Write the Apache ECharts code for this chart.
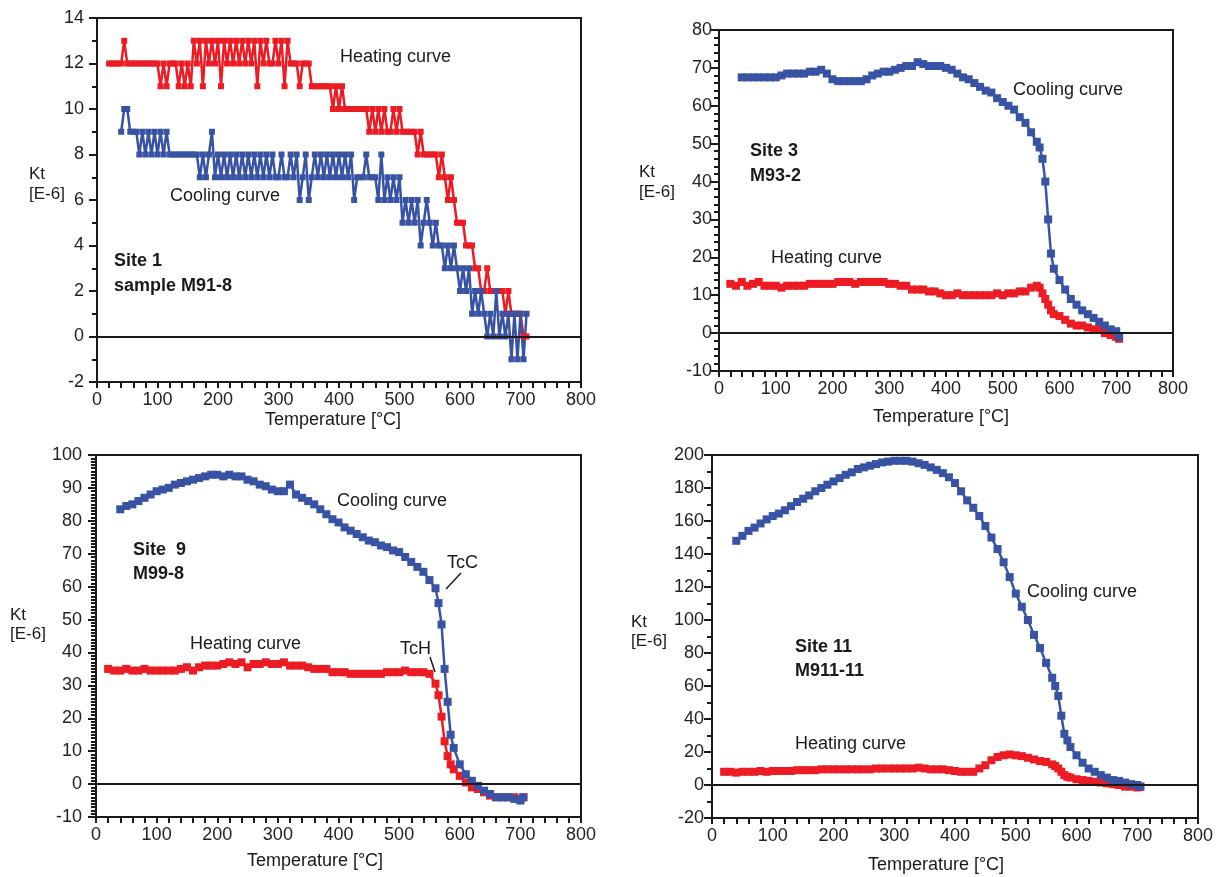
<!DOCTYPE html>
<html>
<head>
<meta charset="utf-8">
<script src="https://cdn.jsdelivr.net/npm/echarts@6/dist/echarts.min.js"></script>
<style>
  html, body { margin: 0; padding: 0; background: #fff; }
  #chart { width: 1220px; height: 877px; }
</style>
</head>
<body>
<div id="chart"></div>
<script>
// Site 1 (step 5 °C)
const temp1 = [
  20,25,30,35,40,45,50,55,60,65,
  70,75,80,85,90,95,100,105,110,115,
  120,125,130,135,140,145,150,155,160,165,
  170,175,180,185,190,195,200,205,210,215,
  220,225,230,235,240,245,250,255,260,265,
  270,275,280,285,290,295,300,305,310,315,
  320,325,330,335,340,345,350,355,360,365,
  370,375,380,385,390,395,400,405,410,415,
  420,425,430,435,440,445,450,455,460,465,
  470,475,480,485,490,495,500,505,510,515,
  520,525,530,535,540,545,550,555,560,565,
  570,575,580,585,590,595,600,605,610,615,
  620,625,630,635,640,645,650,655,660,665,
  670,675,680,685,690,695,700,705,710
];
const heat1 = [
  12,12,12,12,12,13,12,12,12,12,
  12,12,12,12,12,12,12,11,12,11,
  12,12,12,11,12,11,12,11,13,12,
  13,11,13,12,13,12,13,11,13,12,
  13,12,13,12,13,12,13,12,13,11,
  13,12,13,12,12,13,12,13,11,13,
  12,12,12,11,12,12,12,11,11,11,
  11,11,11,11,10,11,10,11,10,10,
  10,10,10,10,10,10,9,10,9,10,
  9,10,9,9,10,9,10,9,9,9,
  9,9,8,9,8,8,8,8,8,7,
  8,7,6,7,6,5,5,5,4,4,
  4,3,3,2,2,3,2,2,2,2,
  2,1,2,1,1,1,1,0,0
];
const cool1 = [
  null,null,null,null,9,10,10,9,9,9,
  8,9,8,9,8,9,8,9,8,9,
  8,8,8,8,8,8,8,8,8,8,
  7,8,7,8,9,7,8,7,8,7,
  8,7,8,7,8,7,8,7,8,7,
  8,7,8,7,8,7,7,8,7,7,
  8,7,8,6,7,8,6,7,8,7,
  8,7,8,7,8,7,8,7,8,7,
  8,6,7,7,7,8,7,7,7,6,
  8,6,7,6,7,6,7,5,6,5,
  6,5,6,4,5,6,5,4,5,4,
  4,3,4,3,4,3,2,3,2,3,
  1,2,1,2,1,0,1,0,2,0,
  1,0,1,-1,1,-1,1,-1,1
];

// Sites 3, 9, 11 share one temperature list
const temp = [
  20,30,40,50,60,70,80,90,100,110,
  120,130,140,150,160,170,180,190,200,210,
  220,230,240,250,260,270,280,290,300,310,
  320,330,340,350,360,370,380,390,400,410,
  420,430,440,450,460,470,480,490,500,510,
  520,530,540,550,560,565,570,575,580,585,
  590,600,610,620,630,640,650,660,670,680,
  690,700,705
];
const heat3 = [
  13,12.5,13.5,12.5,13,13.5,12.5,12.5,12.5,12,
  12.5,12.5,12.5,12.5,13,13,13,13,13,13.5,
  13.5,13.5,13,13.5,13.5,13.5,13.5,13.5,13,13,
  12.5,12.5,11.5,11.5,11.5,11,11,10.5,10,10,
  10.5,10,10,10,10,10,10,10.5,10,10.5,
  10.5,11,11,12,12.5,12,10.5,9,7.5,6,
  5,4.5,3.5,2.5,2,2,1.5,1,1,0,
  -0.5,-1,-1.5
];
const cool3 = [
  null,null,67.5,67.5,67.5,67.5,67.5,67.5,67.5,68,
  68.5,68.5,68.5,68.5,69,69,69.5,68.5,67,66.5,
  66.5,66.5,66.5,66.5,67,68,68.5,69,69,69.5,
  70,70.5,70.5,71.5,71,70.5,70.5,70.5,70,69.5,
  68.5,67.5,67,66,65,64,63.5,62,61,60,
  59,57,55.5,53,50.5,49,46,40,30,21,
  17,14,11.5,9,7.5,6,5,4,3,2,
  1,0.5,-1
];
const heat9 = [
  35,34.5,34.5,35,34.5,34.5,35,34.5,34.5,34.5,
  34.5,34.5,35,35.5,34.5,35.5,36,36,36,36.5,
  37,36.5,37,35.5,36.5,36.5,37,36.5,36.5,37,
  36,36,36,35.5,35,35,35,34,34,34,
  33.5,33.5,33.5,33.5,33.5,33.5,34,34,34,34.5,
  34,34,34,33.5,30.5,27,20.5,13,8.5,6,
  4.5,2.5,0.5,-1,-1.5,-2.5,-3.5,-4,-4,-4,
  -4,-4.5,-4
];
const cool9 = [
  null,null,83.5,84.5,85,86,87,88,89,89.5,
  90,91,91.5,92,92.5,93,93.5,94,94,93.5,
  94,93.5,93.5,92.5,92,91,90.5,89.5,89,89,
  91,88,87,86,85,83.5,82,80.5,79.5,78,
  77,76,75,74,73.5,72.5,72,71,70.5,69,
  67.5,66,64.5,62,59.5,55,48.5,35,25,15,
  11,6,3,1,-0.5,-2,-3,-4,-4,-4,
  -4.5,-5,-4
];
const heat11 = [
  8,8,7.5,8,8,8,8.5,8,8.5,8.5,
  8.5,8.5,9,9,9,9,9.5,9.5,9.5,9.5,
  9.5,9.5,9.5,9.5,9.5,10,10,10,10,10,
  10,10,10.5,10,9.5,9.5,9.5,9,8.5,8,
  8,8,10,12,15,17,18,18.5,18,17.5,
  16.5,15.5,14.5,14,12.5,11.5,10,8,6,5,
  4.5,3.5,3,2.5,2,1.5,1,0.5,0,-1,
  -1,-1.5,-1
];
const cool11 = [
  null,null,148,151,154,156,158.5,161,163,164.5,
  166.5,169,171.5,173.5,175.5,178,180,182,184,186,
  188,189.5,191.5,192.5,193.5,194.5,195.5,196,196.5,196.5,
  196.5,196,195,194,192.5,191,189,186.5,183,178,
  172.5,168,163,157,150,143,135,126,116,108,
  100,91,83,74,65,60,54,42,31,27,
  23,18,13.5,10,8,6,4.5,3,2.5,1.5,
  0.5,0,-1
];

// y axis ranges per panel: [min, max, interval, minor splits]
const yRanges = [[-2, 14, 2, 2], [-10, 80, 10, 5], [-10, 100, 10, 10], [-20, 200, 20, 2]];
const labelMargins = [13, 7, 14, 8];

const RED = '#ec1c24';
const BLUE = '#3953a4';
const INK = '#1a1a1a';
const FONT = 'Liberation Sans, Arial, sans-serif';

const grids = [
  {left: 97, top: 18, width: 484, height: 364},
  {left: 719, top: 30, width: 454, height: 341},
  {left: 96, top: 455, width: 485, height: 362},
  {left: 712, top: 455, width: 486, height: 363}
];

function pairs(t, v) {
  return t.map((x, i) => [x, v[i]]);
}

function curve(i, t, v, color, zero) {
  let s = {
    type: 'line', xAxisIndex: i, yAxisIndex: i,
    data: pairs(t, v),
    symbol: 'rect', symbolSize: i === 0 ? 6 : 8,
    lineStyle: {color: color, width: 2.5},
    itemStyle: {color: color},
    silent: true, animation: false
  };
  if (zero) {
    s.markLine = {
      silent: true, symbol: 'none', label: {show: false}, animation: false,
      lineStyle: {color: INK, width: 2, type: 'solid'},
      data: [{yAxis: 0}]
    };
  }
  return s;
}

function txt(x, y, text, opts) {
  opts = opts || {};
  return {
    type: 'text', silent: true,
    style: {
      x: x, y: y, text: text, fill: INK,
      font: (opts.bold ? 'bold ' : '') + (opts.size || 18) + 'px ' + FONT,
      align: opts.align || 'left', verticalAlign: 'middle'
    }
  };
}

const xAxes = grids.map((g, i) => ({
  type: 'value', gridIndex: i, min: 0, max: 800, interval: 100,
  axisLine: {onZero: false, lineStyle: {color: INK, width: 2}},
  axisTick: {length: 6, lineStyle: {color: INK, width: 2}},
  minorTick: {show: true, splitNumber: 5, length: 6, lineStyle: {color: INK, width: 2}},
  axisLabel: {fontSize: 18, color: '#222', margin: 9, fontFamily: FONT},
  splitLine: {show: false}
}));

const yAxes = yRanges.map((r, i) => ({
  type: 'value', gridIndex: i, min: r[0], max: r[1], interval: r[2],
  axisLine: {onZero: false, lineStyle: {color: INK, width: 2}},
  axisTick: {length: 8, lineStyle: {color: INK, width: 2}},
  minorTick: {show: true, splitNumber: r[3], length: 5, lineStyle: {color: INK, width: 2}},
  axisLabel: {fontSize: 18, color: '#222', margin: labelMargins[i], fontFamily: FONT},
  splitLine: {show: false}
}));

const graphics = [
  // site 1
  txt(340, 57, 'Heating curve'),
  txt(170, 196, 'Cooling curve'),
  txt(114, 261, 'Site 1', {bold: true}),
  txt(114, 286, 'sample M91-8', {bold: true}),
  txt(29, 174, 'Kt', {size: 17}),
  txt(29, 194, '[E-6]', {size: 17}),
  txt(333, 420, 'Temperature [°C]', {align: 'center'}),
  // site 3
  txt(1013, 90, 'Cooling curve'),
  txt(750, 151, 'Site 3', {bold: true}),
  txt(750, 176, 'M93-2', {bold: true}),
  txt(771, 258, 'Heating curve'),
  txt(639, 172, 'Kt', {size: 17}),
  txt(639, 192, '[E-6]', {size: 17}),
  txt(941, 417, 'Temperature [°C]', {align: 'center'}),
  // site 9
  txt(337, 501, 'Cooling curve'),
  txt(133, 550, 'Site  9', {bold: true}),
  txt(133, 574, 'M99-8', {bold: true}),
  txt(190, 644, 'Heating curve'),
  txt(447, 563, 'TcC'),
  txt(400, 649, 'TcH'),
  txt(10, 615, 'Kt', {size: 17}),
  txt(10, 634, '[E-6]', {size: 17}),
  txt(315, 861, 'Temperature [°C]', {align: 'center'}),
  {type: 'line', silent: true, shape: {x1: 446, y1: 589, x2: 461, y2: 573}, style: {stroke: INK, lineWidth: 1.5}},
  {type: 'line', silent: true, shape: {x1: 430, y1: 657, x2: 435, y2: 672}, style: {stroke: INK, lineWidth: 1.5}},
  // site 11
  txt(1027, 592, 'Cooling curve'),
  txt(795, 647, 'Site 11', {bold: true}),
  txt(795, 671, 'M911-11', {bold: true}),
  txt(795, 744, 'Heating curve'),
  txt(631, 622, 'Kt', {size: 17}),
  txt(631, 641, '[E-6]', {size: 17}),
  txt(936, 865, 'Temperature [°C]', {align: 'center'})
];

const chart = echarts.init(document.getElementById('chart'), null, {renderer: 'canvas'});
chart.setOption({
  backgroundColor: '#fff',
  animation: false,
  grid: grids.map(g => Object.assign({show: true, borderColor: INK, borderWidth: 2, containLabel: false}, g)),
  xAxis: xAxes,
  yAxis: yAxes,
  series: [
    curve(0, temp1, heat1, RED, true),
    curve(0, temp1, cool1, BLUE),
    curve(1, temp, heat3, RED, true),
    curve(1, temp, cool3, BLUE),
    curve(2, temp, heat9, RED, true),
    curve(2, temp, cool9, BLUE),
    curve(3, temp, heat11, RED, true),
    curve(3, temp, cool11, BLUE)
  ],
  graphic: graphics
});
</script>
</body>
</html>
